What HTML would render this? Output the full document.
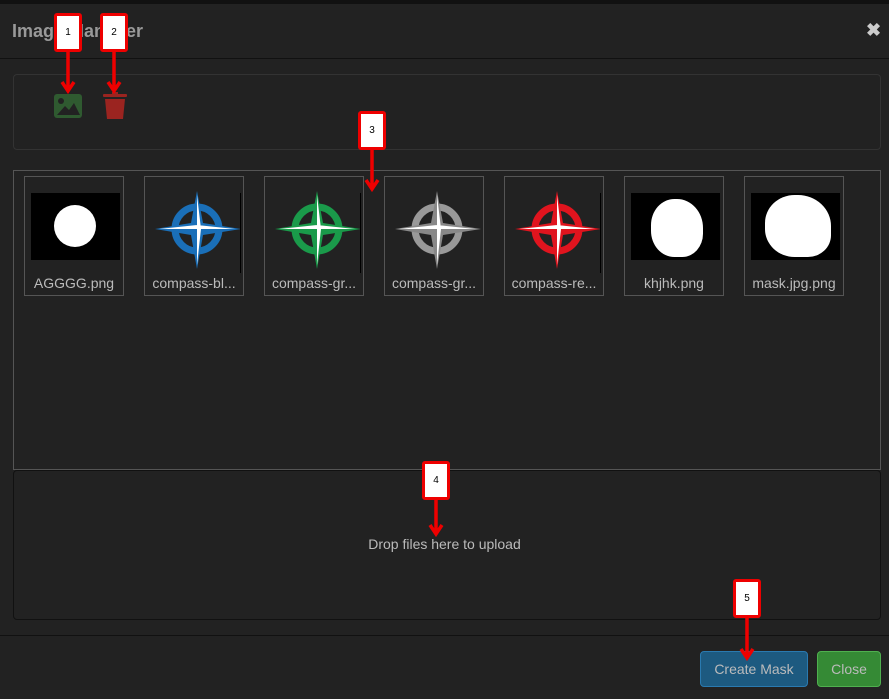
<!DOCTYPE html>
<html><head><style>
body{margin:0;width:889px;height:699px;background:#222;font-family:"Liberation Sans",sans-serif;position:relative;overflow:hidden}
.a{position:absolute}
.tile{position:absolute;top:176px;width:98px;height:118px;border:1px solid #555}
.tile .im{position:absolute;left:6px;top:16px;width:89px;height:67px}
.tile .lb{position:absolute;left:0;right:0;top:98px;text-align:center;color:#bbb;font-size:14px;white-space:nowrap}
.co{position:absolute;width:22px;height:33px;background:#fff;border:3px solid #e00;border-radius:3px;font-size:10px;text-align:center;line-height:33px;color:#000}
</style></head><body>
<div class="a" style="left:0;top:0;width:889px;height:4px;background:#111"></div>
<div class="a" style="left:12px;top:21px;font-size:18px;font-weight:bold;color:#999">Image Manager</div>
<div class="a" style="left:866px;top:20px;font-size:18px;color:#ccc;font-weight:bold">✖</div>
<div class="a" style="left:0;top:58px;width:889px;height:1px;background:#111"></div>
<div class="a" style="left:13px;top:74px;width:866px;height:74px;border:1px solid #333;border-radius:4px"></div>
<svg class="a" style="left:54px;top:94px" width="28" height="25"><rect width="28" height="24" rx="3" fill="#2f5a30"/><circle cx="7" cy="7" r="3" fill="#222"/><path d="M3 21 L11 12 L15 16 L20 9 L26 21Z" fill="#222"/></svg>
<svg class="a" style="left:103px;top:92px" width="24" height="28"><rect x="0" y="2" width="24" height="3" rx="1" fill="#9b2420"/><rect x="9" y="0" width="6" height="3" fill="#9b2420"/><path d="M2 7 H22 L20 27 H4Z" fill="#9b2420"/></svg>
<div class="a" style="left:13px;top:170px;width:866px;height:298px;border:1px solid #555"></div>
<div class="tile" style="left:24px"><div class="im" style="background:#000"><div class="a" style="left:23px;top:12px;width:42px;height:42px;border-radius:50%;background:#fff"></div></div><div class="lb">AGGGG.png</div></div>
<div class="tile" style="left:144px"><svg class="a" style="left:6px;top:4px" width="92" height="92" viewBox="0 0 92 92"><circle cx="46" cy="48" r="22" fill="none" stroke="#1a6fb8" stroke-width="7"/><path d="M46 10L52 42L90 48L52 54L46 88L40 54L4 48L40 42Z" fill="#1a6fb8"/><path d="M46 14L50 48L46 84Z M8 48L46 44L84 48Z" fill="#fff"/><rect x="89" y="12" width="1" height="80" fill="#000"/></svg><div class="lb">compass-bl...</div></div>
<div class="tile" style="left:264px"><svg class="a" style="left:6px;top:4px" width="92" height="92" viewBox="0 0 92 92"><circle cx="46" cy="48" r="22" fill="none" stroke="#1a9a4a" stroke-width="7"/><path d="M46 10L52 42L90 48L52 54L46 88L40 54L4 48L40 42Z" fill="#1a9a4a"/><path d="M46 14L50 48L46 84Z M8 48L46 44L84 48Z" fill="#fff"/><rect x="89" y="12" width="1" height="80" fill="#000"/></svg><div class="lb">compass-gr...</div></div>
<div class="tile" style="left:384px"><svg class="a" style="left:6px;top:4px" width="92" height="92" viewBox="0 0 92 92"><circle cx="46" cy="48" r="22" fill="none" stroke="#999" stroke-width="7"/><path d="M46 10L52 42L90 48L52 54L46 88L40 54L4 48L40 42Z" fill="#888"/><path d="M46 14L50 48L46 84Z M8 48L46 44L84 48Z" fill="#fff"/></svg><div class="lb">compass-gr...</div></div>
<div class="tile" style="left:504px"><svg class="a" style="left:6px;top:4px" width="92" height="92" viewBox="0 0 92 92"><circle cx="46" cy="48" r="22" fill="none" stroke="#e0141e" stroke-width="7"/><path d="M46 10L52 42L90 48L52 54L46 88L40 54L4 48L40 42Z" fill="#e0141e"/><path d="M46 14L50 48L46 84Z M8 48L46 44L84 48Z" fill="#fff"/><rect x="89" y="12" width="1" height="80" fill="#000"/></svg><div class="lb">compass-re...</div></div>
<div class="tile" style="left:624px"><div class="im" style="background:#000"><div class="a" style="left:20px;top:6px;width:52px;height:58px;border-radius:45% 50% 40% 45%;background:#fff"></div></div><div class="lb">khjhk.png</div></div>
<div class="tile" style="left:744px"><div class="im" style="background:#000"><div class="a" style="left:14px;top:2px;width:66px;height:62px;border-radius:45% 50% 35% 45%;background:#fff"></div></div><div class="lb">mask.jpg.png</div></div>
<div class="a" style="left:13px;top:470px;width:866px;height:148px;border:1px solid #111;border-radius:4px"></div>
<div class="a" style="left:0;top:536px;width:889px;text-align:center;color:#bbb;font-size:14px">Drop files here to upload</div>
<div class="a" style="left:0;top:635px;width:889px;height:1px;background:#111"></div>
<div class="a" style="left:700px;top:651px;width:106px;height:34px;background:#1d5a80;border:1px solid #2a7ab0;border-radius:4px;color:#bbb;font-size:14px;text-align:center;line-height:34px">Create Mask</div>
<div class="a" style="left:817px;top:651px;width:62px;height:34px;background:#358a35;border:1px solid #4fb04f;border-radius:4px;color:#bbb;font-size:14px;text-align:center;line-height:34px">Close</div>
<svg class="a" style="left:0;top:0" width="889" height="699"><g stroke="#e00" stroke-width="3.5" fill="none">
<path d="M68 52V90M62 82L68 91L74 82"/><path d="M114 52V90M108 82L114 91L120 82"/><path d="M372 150V188M366 180L372 189L378 180"/><path d="M436 500V533M430 525L436 534L442 525"/><path d="M747 618V657M741 649L747 658L753 649"/></g></svg>
<div class="co" style="left:54px;top:13px">1</div>
<div class="co" style="left:100px;top:13px">2</div>
<div class="co" style="left:358px;top:111px">3</div>
<div class="co" style="left:422px;top:461px">4</div>
<div class="co" style="left:733px;top:579px">5</div>
</body></html>
